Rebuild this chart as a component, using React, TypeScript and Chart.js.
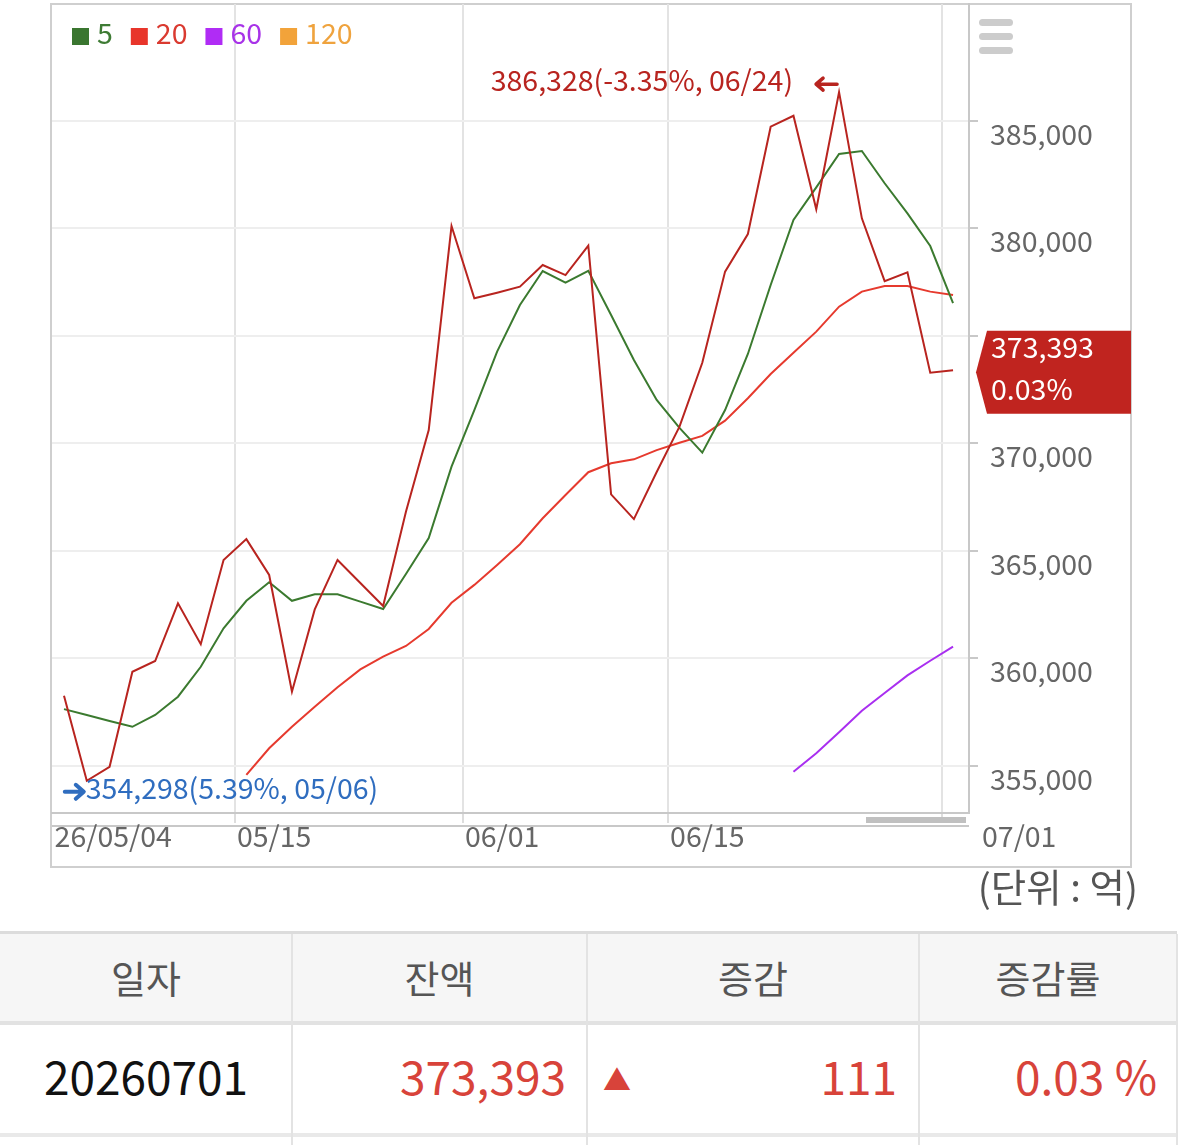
import React, { useEffect, useRef } from 'react';
import { Chart, registerables } from 'chart.js';

Chart.register(...registerables);

const FONT = "'Noto Sans CJK KR', 'Noto Sans', sans-serif";
const FS = 28.5;

// trading days (2026)
const dates = [
  '05/04', '05/06', '05/07', '05/08', '05/11', '05/12', '05/13', '05/14', '05/15',
  '05/18', '05/19', '05/20', '05/21', '05/22', '05/26', '05/27', '05/28', '05/29',
  '06/01', '06/02', '06/04', '06/05', '06/08', '06/09', '06/10', '06/11', '06/12',
  '06/15', '06/16', '06/17', '06/18', '06/19', '06/22', '06/23', '06/24', '06/25',
  '06/26', '06/29', '06/30', '07/01',
];

// daily balance (억)
const balance = [
  358250, 354298, 354950, 359370, 359870, 362550, 360650, 364570, 365540,
  363870, 358440, 362270, 364570, 363500, 362430, 366810, 370610, 380100,
  376740, 377000, 377280, 378290, 377820, 379190, 367620, 366470, 368660,
  370770, 373740, 377980, 379730, 384720, 385230, 380880, 386328, 380460,
  377540, 377950, 373282, 373393,
];

const ma5 = [
  357630, 357360, 357080, 356810, 357360, 358210, 359600, 361390, 362670,
  363530, 362670, 362970, 362970, 362630, 362290, 363920, 365590, 368910,
  371540, 374260, 376430, 378010, 377470, 378020, 375960, 373870, 372010,
  370710, 369560, 371540, 374150, 377360, 380380, 381900, 383450, 383590,
  382090, 380690, 379170, 376510,
];

const ma20 = [
  null, null, null, null, null, null, null, null, 354570,
  355810, 356810, 357740, 358650, 359480, 360070, 360570, 361360, 362580,
  363410, 364340, 365300, 366510, 367590, 368650, 369070, 369250, 369680,
  370020, 370340, 371050, 372090, 373220, 374210, 375190, 376350, 377050,
  377310, 377310, 377050, 376890,
];

const ma60 = [
  null, null, null, null, null, null, null, null, null,
  null, null, null, null, null, null, null, null, null,
  null, null, null, null, null, null, null, null, null,
  null, null, null, null, null, 354720, 355580, 356560, 357560,
  358380, 359200, 359880, 360540,
];

const ma120: (number | null)[] = [];

const legendLabels = ['5', '20', '60', '120'];
const legendBoxColors = ['#3a7630', '#e8352b', '#b02cf5', '#f2a33a'];
const legendTextColors = ['#3e7b34', '#da3a30', '#a833e8', '#efa33e'];
const lineColors = ['#b8241f', '#3b7a2f', '#e63a2e', '#a92ff0', '#f0a23a'];

const xTickDates = ['05/04', '05/15', '06/01', '06/15', '07/01'];
const xTickLabels = ['26/05/04', '05/15', '06/01', '06/15', '07/01'];
const yTicks = [355000, 360000, 365000, 370000, 375000, 380000, 385000];

const tableHeaders = ['일자', '잔액', '증감', '증감률'];
const rowDate = '20260701';
const unitLabel = '(단위 : 억)';

const fmt = (v: number) => v.toLocaleString('en-US');

const xTickValues = xTickDates.map((d) => dates.indexOf(d) - 0.5);
const toPoints = (arr: (number | null)[]) =>
  arr.map((v, i) => ({ x: i, y: v })).filter((p) => p.y !== null);

const decorPlugin = {
  id: 'decor',
  afterDraw(chart: any) {
    const { ctx, chartArea: a, scales } = chart;
    const x = scales.x;
    const y = scales.y;
    ctx.save();

    // navigator line + scrollbar thumb
    ctx.fillStyle = '#c8c8c8';
    ctx.fillRect(a.left, a.bottom + 12, a.right - a.left, 2);
    ctx.fillStyle = '#c0c0c0';
    ctx.fillRect(a.right - 103, a.bottom + 4, 100, 6);

    // x labels
    ctx.font = `${FS}px ${FONT}`;
    ctx.fillStyle = '#666';
    ctx.textAlign = 'left';
    ctx.textBaseline = 'alphabetic';
    xTickValues.forEach((v, i) => {
      const label = xTickLabels[i];
      let px = x.getPixelForValue(v) + 2;
      const w = ctx.measureText(label).width;
      if (px + w > a.right) px = a.right + 13;
      ctx.fillText(label, px, a.bottom + 34);
    });

    // legend
    let lx = a.left + 20;
    const ly = 28;
    legendLabels.forEach((lab, i) => {
      ctx.fillStyle = legendBoxColors[i];
      ctx.fillRect(lx, ly, 17, 17);
      ctx.fillStyle = legendTextColors[i];
      ctx.fillText(lab, lx + 25, ly + 16);
      lx += 25 + ctx.measureText(lab).width + 18;
    });

    // max / min annotations
    const last = balance[balance.length - 1];
    let iMax = 0;
    let iMin = 0;
    balance.forEach((v, i) => {
      if (v > balance[iMax]) iMax = i;
      if (v < balance[iMin]) iMin = i;
    });
    const maxV = balance[iMax];
    const minV = balance[iMin];
    const maxPct = ((last / maxV - 1) * 100).toFixed(2);
    const minPct = ((last / minV - 1) * 100).toFixed(2);

    const pxMax = x.getPixelForValue(iMax);
    const pyMax = y.getPixelForValue(maxV);
    ctx.fillStyle = '#b8241f';
    ctx.strokeStyle = '#b8241f';
    ctx.textAlign = 'right';
    ctx.fillText(`${fmt(maxV)}(${maxPct}%, ${dates[iMax]})`, pxMax - 46, pyMax - 1);
    // left arrow
    {
      const ay = pyMax - 8;
      const x0 = pxMax - 23;
      const x1 = pxMax - 2;
      ctx.lineWidth = 3.5;
      ctx.lineCap = 'round';
      ctx.lineJoin = 'round';
      ctx.beginPath();
      ctx.moveTo(x1, ay);
      ctx.lineTo(x0 + 1, ay);
      ctx.moveTo(x0 + 7, ay - 6);
      ctx.lineTo(x0, ay);
      ctx.lineTo(x0 + 7, ay + 6);
      ctx.stroke();
    }

    const pxMin = x.getPixelForValue(iMin);
    const pyMin = y.getPixelForValue(minV);
    ctx.fillStyle = '#2f6dbf';
    ctx.strokeStyle = '#2f6dbf';
    ctx.textAlign = 'left';
    ctx.fillText(`${fmt(minV)}(${minPct}%, ${dates[iMin]})`, pxMin - 1, pyMin + 18);
    {
      const ay = pyMin + 11;
      const x0 = pxMin - 22;
      const x1 = pxMin - 3;
      ctx.lineWidth = 4;
      ctx.beginPath();
      ctx.moveTo(x0, ay);
      ctx.lineTo(x1 - 1, ay);
      ctx.moveTo(x1 - 8, ay - 7);
      ctx.lineTo(x1, ay);
      ctx.lineTo(x1 - 8, ay + 7);
      ctx.stroke();
    }

    // current value tag
    const prev = balance[balance.length - 2];
    const pct = (((last - prev) / prev) * 100).toFixed(2);
    const yl = y.getPixelForValue(last) + 2;
    ctx.fillStyle = '#c0241f';
    ctx.beginPath();
    ctx.moveTo(a.right + 7, yl);
    ctx.lineTo(a.right + 18, yl - 41.5);
    ctx.lineTo(a.right + 162, yl - 41.5);
    ctx.lineTo(a.right + 162, yl + 41.5);
    ctx.lineTo(a.right + 18, yl + 41.5);
    ctx.closePath();
    ctx.fill();
    ctx.fillStyle = '#ffffff';
    ctx.textAlign = 'left';
    ctx.fillText(fmt(last), a.right + 22, yl - 14);
    ctx.fillText(`${pct}%`, a.right + 22, yl + 27.5);

    // menu icon
    ctx.fillStyle = '#cccccc';
    [19, 33, 47].forEach((ty) => {
      ctx.beginPath();
      (ctx as any).roundRect(a.right + 10, ty, 34, 7, 3.5);
      ctx.fill();
    });

    ctx.restore();
  },
};

export default function App() {
  const ref = useRef<HTMLCanvasElement>(null);

  useEffect(() => {
    if (!ref.current) return;
    const chart = new Chart(ref.current, {
      type: 'line',
      data: {
        datasets: [
          { label: 'balance', data: toPoints(balance), borderColor: lineColors[0] },
          { label: legendLabels[0], data: toPoints(ma5), borderColor: lineColors[1] },
          { label: legendLabels[1], data: toPoints(ma20), borderColor: lineColors[2] },
          { label: legendLabels[2], data: toPoints(ma60), borderColor: lineColors[3] },
          { label: legendLabels[3], data: toPoints(ma120), borderColor: lineColors[4] },
        ] as any,
      },
      options: {
        responsive: false,
        animation: false,
        layout: { padding: { left: 52, top: 4, right: 0, bottom: 0 } },
        plugins: { legend: { display: false }, tooltip: { enabled: false } },
        elements: {
          point: { radius: 0, hoverRadius: 0 },
          line: { borderWidth: 2, tension: 0, fill: false },
        },
        scales: {
          x: {
            type: 'linear',
            min: -0.526,
            max: 39.7,
            afterBuildTicks: (s: any) => {
              s.ticks = xTickValues.map((v) => ({ value: v }));
            },
            afterFit: (s: any) => {
              s.height = 57;
              s.paddingLeft = 0;
              s.paddingRight = 0;
            },
            ticks: { display: false },
            grid: {
              color: (c: any) => (c.index === 0 ? 'rgba(0,0,0,0)' : '#e3e3e3'),
              tickColor: (c: any) => (c.index === 0 ? 'rgba(0,0,0,0)' : '#dddddd'),
              lineWidth: 2,
              tickLength: 10,
            },
            border: { display: true, color: '#c8c8c8', width: 2 },
          },
          y: {
            type: 'linear',
            position: 'right',
            min: 352800,
            max: 390428,
            afterBuildTicks: (s: any) => {
              s.ticks = yTicks.map((v) => ({ value: v }));
            },
            afterFit: (s: any) => {
              s.width = 210;
              s.paddingTop = 0;
              s.paddingBottom = 0;
            },
            ticks: {
              color: '#666',
              font: { size: FS, family: FONT },
              padding: 12,
              labelOffset: 13,
              callback: (v: any) => fmt(Number(v)),
            },
            grid: {
              color: '#eeeeee',
              tickColor: '#c8c8c8',
              lineWidth: 2,
              tickLength: 9,
            },
            border: { display: true, color: '#c8c8c8', width: 2 },
          },
        },
      } as any,
      plugins: [decorPlugin],
    });
    return () => chart.destroy();
  }, []);

  const last = balance[balance.length - 1];
  const prev = balance[balance.length - 2];
  const diff = last - prev;
  const rate = ((diff / prev) * 100).toFixed(2);

  const cols = [0, 292, 587, 919, 1177];
  const red = '#d8433a';
  const rowFont = 46;

  return (
    <div
      style={{
        position: 'absolute',
        left: 0,
        top: 0,
        width: 1179,
        height: 1145,
        background: '#ffffff',
        fontFamily: FONT,
        overflow: 'hidden',
      }}
    >
      <div
        style={{
          position: 'absolute',
          left: 50,
          top: 3,
          width: 1082,
          height: 865,
          border: '2px solid #cfcfcf',
          boxSizing: 'border-box',
        }}
      />
      <canvas
        ref={ref}
        width={1179}
        height={870}
        style={{ position: 'absolute', left: 0, top: 0, width: 1179, height: 870 }}
      />
      <div
        style={{
          position: 'absolute',
          right: 41,
          top: 866,
          fontSize: 38.5,
          lineHeight: '38.5px',
          color: '#555',
          whiteSpace: 'nowrap',
        }}
      >
        {unitLabel}
      </div>

      {/* table */}
      <div style={{ position: 'absolute', left: 0, top: 931, width: 1177, height: 3, background: '#dcdcdc' }} />
      <div style={{ position: 'absolute', left: 0, top: 934, width: 1177, height: 87, background: '#f6f6f6' }} />
      <div style={{ position: 'absolute', left: 0, top: 1021, width: 1177, height: 4, background: '#e2e2e2' }} />
      <div style={{ position: 'absolute', left: 0, top: 1133, width: 1177, height: 4, background: '#e9e9e9' }} />
      {cols.slice(1).map((c, i) => (
        <div
          key={'sep' + i}
          style={{ position: 'absolute', left: c - 1, top: 934, width: 2, height: 211, background: '#e3e3e3' }}
        />
      ))}
      {tableHeaders.map((h, i) => (
        <div
          key={'h' + i}
          style={{
            position: 'absolute',
            left: cols[i],
            top: 933,
            width: cols[i + 1] - cols[i],
            height: 87,
            display: 'flex',
            alignItems: 'center',
            justifyContent: 'center',
            fontSize: 38,
            lineHeight: '38px',
            color: '#555',
          }}
        >
          {h}
        </div>
      ))}
      <div
        style={{
          position: 'absolute',
          left: cols[0],
          top: 1025,
          width: cols[1] - cols[0],
          height: 100,
          display: 'flex',
          alignItems: 'center',
          justifyContent: 'center',
          fontSize: rowFont,
          lineHeight: `${rowFont}px`,
          color: '#111',
        }}
      >
        {rowDate}
      </div>
      <div
        style={{
          position: 'absolute',
          left: cols[1],
          top: 1025,
          width: cols[2] - cols[1] - 21,
          height: 100,
          display: 'flex',
          alignItems: 'center',
          justifyContent: 'flex-end',
          fontSize: rowFont,
          lineHeight: `${rowFont}px`,
          color: red,
        }}
      >
        {fmt(last)}
      </div>
      <div
        style={{
          position: 'absolute',
          left: cols[2] + 16,
          top: 1029,
          height: 100,
          display: 'flex',
          alignItems: 'center',
          fontSize: 28,
          lineHeight: '28px',
          color: red,
        }}
      >
        {diff > 0 ? '▲' : '▼'}
      </div>
      <div
        style={{
          position: 'absolute',
          left: cols[2],
          top: 1025,
          width: cols[3] - cols[2] - 22,
          height: 100,
          display: 'flex',
          alignItems: 'center',
          justifyContent: 'flex-end',
          fontSize: rowFont,
          lineHeight: `${rowFont}px`,
          color: red,
        }}
      >
        {fmt(Math.abs(diff))}
      </div>
      <div
        style={{
          position: 'absolute',
          left: cols[3],
          top: 1025,
          width: cols[4] - cols[3] - 20,
          height: 100,
          display: 'flex',
          alignItems: 'center',
          justifyContent: 'flex-end',
          fontSize: rowFont,
          lineHeight: `${rowFont}px`,
          color: red,
          whiteSpace: 'nowrap',
        }}
      >
        {rate} %
      </div>
    </div>
  );
}
